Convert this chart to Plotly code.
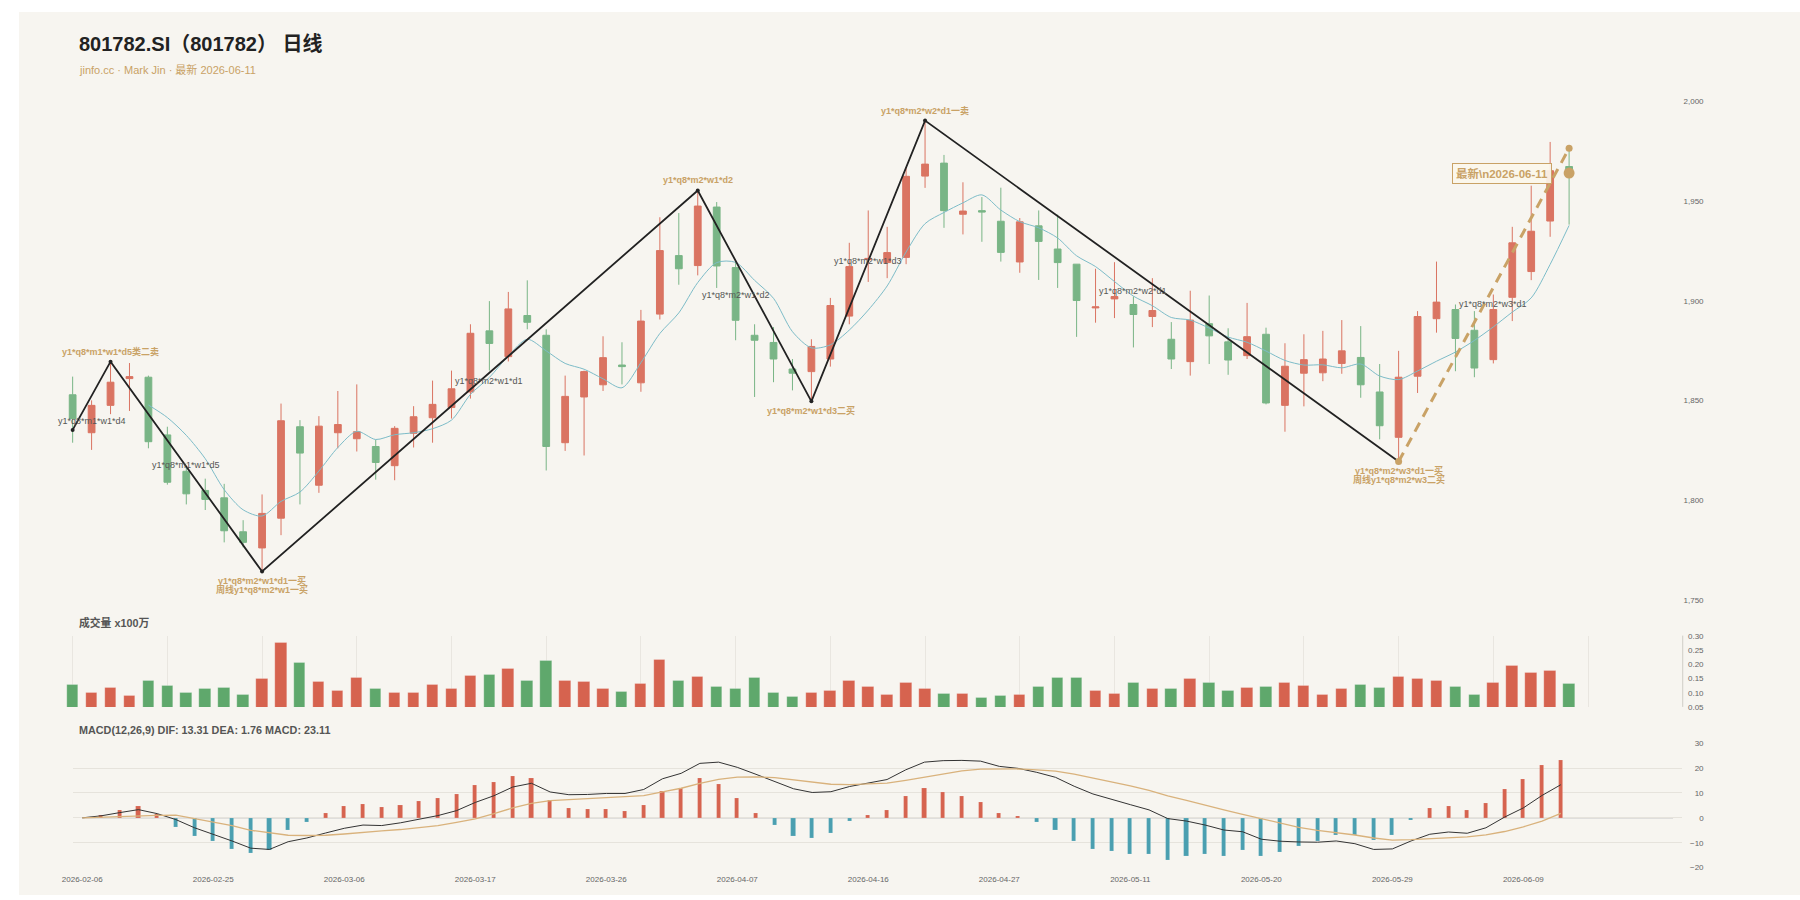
import plotly.graph_objects as go

# ---------------- data ----------------
dates = [
    "2026-02-06", "2026-02-09", "2026-02-10", "2026-02-11", "2026-02-12", "2026-02-13",
    "2026-02-24", "2026-02-25", "2026-02-26", "2026-02-27",
    "2026-03-02", "2026-03-03", "2026-03-04", "2026-03-05", "2026-03-06",
    "2026-03-09", "2026-03-10", "2026-03-11", "2026-03-12", "2026-03-13",
    "2026-03-16", "2026-03-17", "2026-03-18", "2026-03-19", "2026-03-20",
    "2026-03-23", "2026-03-24", "2026-03-25", "2026-03-26", "2026-03-27",
    "2026-03-30", "2026-03-31", "2026-04-01", "2026-04-02", "2026-04-03",
    "2026-04-07", "2026-04-08", "2026-04-09", "2026-04-10",
    "2026-04-13", "2026-04-14", "2026-04-15", "2026-04-16", "2026-04-17",
    "2026-04-20", "2026-04-21", "2026-04-22", "2026-04-23", "2026-04-24",
    "2026-04-27", "2026-04-28", "2026-04-29", "2026-04-30",
    "2026-05-06", "2026-05-07", "2026-05-08",
    "2026-05-11", "2026-05-12", "2026-05-13", "2026-05-14", "2026-05-15",
    "2026-05-18", "2026-05-19", "2026-05-20", "2026-05-21", "2026-05-22",
    "2026-05-25", "2026-05-26", "2026-05-27", "2026-05-28", "2026-05-29",
    "2026-06-01", "2026-06-02", "2026-06-03", "2026-06-04", "2026-06-05",
    "2026-06-08", "2026-06-09", "2026-06-10", "2026-06-11",
]

open_ = [1852.9, 1833.9, 1847.6, 1861.0, 1861.7, 1832.8, 1814.6, 1805.0, 1801.3, 1784.3,
         1776.2, 1791.1, 1836.9, 1807.6, 1833.9, 1830.9, 1827.0, 1817.4, 1833.6, 1841.4,
         1846.5, 1854.3, 1884.9, 1872.0, 1892.6, 1882.7, 1828.9, 1851.8, 1857.9, 1867.8,
         1858.9, 1893.3, 1922.6, 1917.6, 1946.9, 1916.6, 1882.7, 1879.1, 1865.8, 1864.5,
         1870.8, 1892.3, 1920.6, 1919.1, 1921.7, 1962.4, 1968.9, 1943.3, 1945.1, 1939.8,
         1919.4, 1937.5, 1925.9, 1918.3, 1896.4, 1900.9, 1898.1, 1892.1, 1880.7, 1869.5,
         1888.5, 1879.4, 1872.5, 1883.2, 1847.6, 1863.7, 1863.9, 1868.6, 1871.6, 1854.3,
         1831.6, 1862.2, 1891.0, 1895.6, 1885.2, 1870.5, 1901.7, 1914.6, 1939.9, 1967.2]
high = [1862.0, 1850.1, 1869.5, 1868.8, 1862.5, 1836.9, 1817.0, 1810.9, 1808.3, 1790.1,
        1803.0, 1848.5, 1840.2, 1842.2, 1854.8, 1858.1, 1830.3, 1837.2, 1847.2, 1860.0,
        1865.0, 1888.2, 1899.8, 1904.4, 1910.2, 1885.7, 1862.5, 1865.0, 1882.2, 1879.2,
        1895.4, 1941.8, 1943.9, 1955.2, 1949.4, 1919.6, 1888.2, 1886.8, 1870.8, 1880.7,
        1901.4, 1929.0, 1945.2, 1937.0, 1966.3, 1990.2, 1973.0, 1959.3, 1951.9, 1956.6,
        1941.4, 1945.2, 1943.1, 1918.3, 1916.0, 1919.3, 1902.2, 1911.3, 1889.3, 1905.0,
        1902.6, 1886.2, 1898.9, 1886.5, 1878.7, 1883.2, 1884.9, 1890.3, 1887.3, 1868.3,
        1874.9, 1894.8, 1919.6, 1898.1, 1894.8, 1903.1, 1937.0, 1957.6, 1979.5, 1976.3]
low = [1828.9, 1825.3, 1843.2, 1844.8, 1826.1, 1807.9, 1798.0, 1795.2, 1779.0, 1776.5,
       1764.4, 1782.6, 1798.0, 1803.8, 1826.1, 1824.5, 1810.4, 1810.1, 1826.5, 1828.9,
       1841.0, 1851.0, 1865.0, 1869.6, 1885.7, 1815.0, 1824.8, 1822.5, 1854.8, 1858.1,
       1854.4, 1890.6, 1908.0, 1912.7, 1906.4, 1880.2, 1851.8, 1859.2, 1855.1, 1849.6,
       1867.0, 1888.2, 1909.4, 1911.3, 1918.3, 1956.5, 1936.5, 1933.2, 1929.5, 1919.6,
       1914.0, 1910.4, 1906.4, 1881.9, 1889.0, 1891.3, 1876.6, 1886.8, 1865.8, 1862.5,
       1868.3, 1862.9, 1870.8, 1848.1, 1834.4, 1847.1, 1859.7, 1863.4, 1851.4, 1830.6,
       1819.5, 1853.8, 1884.0, 1864.7, 1861.7, 1868.6, 1889.8, 1910.3, 1932.0, 1938.1]
close = [1841.0, 1847.6, 1859.2, 1862.0, 1829.4, 1809.1, 1803.3, 1800.5, 1784.8, 1779.0,
         1793.5, 1839.9, 1823.7, 1837.2, 1838.0, 1834.4, 1819.0, 1836.1, 1841.9, 1848.1,
         1855.9, 1883.7, 1878.6, 1895.9, 1889.2, 1827.0, 1852.1, 1864.5, 1871.5, 1867.0,
         1889.8, 1925.1, 1916.0, 1947.4, 1917.4, 1890.2, 1880.2, 1870.8, 1863.7, 1877.1,
         1897.6, 1917.1, 1921.2, 1924.1, 1962.3, 1968.4, 1945.1, 1944.9, 1944.4, 1924.2,
         1939.5, 1929.7, 1919.1, 1900.1, 1896.9, 1902.1, 1893.1, 1895.1, 1870.8, 1890.3,
         1882.4, 1870.3, 1882.0, 1848.8, 1867.2, 1870.5, 1870.8, 1874.9, 1857.9, 1837.4,
         1861.7, 1892.1, 1899.3, 1881.1, 1866.3, 1895.6, 1929.0, 1934.8, 1965.1, 1963.9]

ma5 = [None, None, None, None,
       1847.8, 1841.5, 1832.6, 1820.9, 1805.4, 1795.3, 1792.2, 1799.5, 1804.2, 1814.7,
       1826.5, 1834.6, 1830.5, 1832.9, 1833.9, 1835.9, 1840.2, 1853.1, 1861.6, 1872.4,
       1880.7, 1874.9, 1868.6, 1865.7, 1860.9, 1856.4, 1869.0, 1883.6, 1893.9, 1909.1,
       1919.1, 1919.2, 1910.2, 1901.2, 1884.5, 1876.4, 1877.9, 1885.3, 1895.3, 1907.4,
       1924.4, 1938.6, 1944.2, 1949.0, 1953.0, 1945.4, 1939.6, 1936.5, 1931.4, 1922.5,
       1917.1, 1909.6, 1902.3, 1897.5, 1891.6, 1890.3, 1886.3, 1881.8, 1879.2, 1874.8,
       1870.1, 1867.8, 1867.9, 1866.4, 1868.3, 1862.3, 1860.5, 1864.8, 1869.7, 1874.3,
       1880.1, 1886.9, 1894.3, 1901.4, 1918.2, 1937.7]

volume = [0.128, 0.101, 0.116, 0.088, 0.141, 0.123, 0.101, 0.112, 0.117, 0.093,
          0.147, 0.274, 0.206, 0.137, 0.106, 0.153, 0.112, 0.099, 0.101, 0.128,
          0.114, 0.158, 0.162, 0.183, 0.141, 0.212, 0.143, 0.137, 0.113, 0.103,
          0.130, 0.214, 0.141, 0.157, 0.120, 0.113, 0.152, 0.099, 0.086, 0.101,
          0.108, 0.141, 0.122, 0.092, 0.133, 0.113, 0.095, 0.095, 0.080, 0.090,
          0.092, 0.122, 0.151, 0.153, 0.106, 0.095, 0.134, 0.112, 0.114, 0.148,
          0.136, 0.106, 0.116, 0.122, 0.134, 0.124, 0.091, 0.115, 0.129, 0.116,
          0.155, 0.148, 0.141, 0.119, 0.092, 0.134, 0.193, 0.171, 0.175, 0.130]

dif = [0.0, 0.8, 2.1, 3.3, 1.7, -0.7, -4.0, -6.6, -9.3, -12.2,
       -12.7, -9.6, -8.1, -6.1, -4.2, -2.9, -3.1, -2.0, -0.7, 0.9,
       2.9, 6.2, 8.9, 12.4, 13.9, 10.4, 9.3, 9.4, 9.8, 9.8,
       11.4, 15.7, 17.9, 21.9, 22.4, 20.3, 17.5, 14.6, 11.7, 10.2,
       10.5, 12.6, 14.1, 15.4, 19.3, 22.4, 23.0, 23.1, 22.8, 20.7,
       19.9, 18.3, 16.3, 12.7, 9.6, 7.3, 5.3, 3.2, -0.3, -1.3,
       -2.9, -4.9, -5.6, -8.6, -9.4, -9.7, -9.8, -9.3, -10.4, -12.7,
       -12.5, -9.3, -6.6, -5.7, -6.2, -4.0, 0.3, 4.0, 9.0, 13.31]
dea = [0.0, 0.25, 0.6, 1.05, 1.0, 1.1, -0.3, -1.8, -3.1, -5.0,
       -6.1, -7.0, -7.1, -7.0, -6.5, -5.7, -5.2, -4.7, -4.0, -3.1,
       -1.8, -0.4, 1.7, 4.0, 5.8, 6.9, 7.3, 7.7, 8.1, 8.4,
       8.9, 10.4, 11.9, 13.9, 15.5, 16.4, 16.5, 16.2, 15.4, 14.3,
       13.5, 13.35, 13.55, 13.95, 15.05, 16.35, 17.8, 18.85, 19.6, 19.75,
       19.65, 19.3, 18.8, 17.6, 16.1, 14.4, 12.9, 11.0, 8.8, 7.0,
       5.0, 3.2, 1.4, -0.4, -2.2, -3.8, -5.0, -5.9, -6.9, -8.1,
       -9.0, -8.8, -8.45, -7.95, -7.65, -6.85, -5.5, -3.6, -1.3, 1.76]
macd_hist = [0.0, 1.1, 3.0, 4.5, 1.6, -3.7, -7.3, -9.6, -12.5, -14.2,
             -13.0, -5.0, -1.9, 1.8, 4.5, 5.5, 4.1, 5.2, 6.5, 7.8,
             9.3, 13.2, 14.4, 16.7, 16.1, 7.0, 4.0, 3.3, 3.5, 2.8,
             5.0, 10.5, 12.0, 16.1, 13.7, 7.7, 2.0, -3.1, -7.4, -8.2,
             -6.0, -1.5, 1.1, 2.9, 8.5, 12.1, 10.4, 8.5, 6.4, 1.9,
             0.5, -1.9, -5.0, -9.6, -12.6, -13.4, -14.7, -14.7, -17.1, -15.5,
             -14.7, -15.3, -13.1, -15.5, -13.7, -11.4, -9.3, -6.8, -7.0, -9.2,
             -6.9, -1.1, 3.7, 4.5, 2.9, 5.7, 11.6, 15.4, 21.0, 23.11]

# zigzag (stroke) pivots
zz_dates = ["2026-02-06", "2026-02-10", "2026-03-02", "2026-04-02", "2026-04-13", "2026-04-21", "2026-05-29"]
zz_values = [1835.3, 1869.5, 1764.4, 1955.2, 1849.6, 1990.2, 1819.5]
# running (unfinished) stroke
run_dates = ["2026-05-29", "2026-06-11"]
run_values = [1819.5, 1976.3]

# emphasised pivot labels: (date, value, lines, side)
pivot_labels = [
    ("2026-02-10", 1869.5, ["y1*q8*m1*w1*d5类二卖"], "above"),
    ("2026-03-02", 1764.4, ["y1*q8*m2*w1*d1一买", "周线y1*q8*m2*w1一买"], "below"),
    ("2026-04-02", 1955.2, ["y1*q8*m2*w1*d2"], "above"),
    ("2026-04-13", 1849.6, ["y1*q8*m2*w1*d3二买"], "below"),
    ("2026-04-21", 1990.2, ["y1*q8*m2*w2*d1一卖"], "above"),
    ("2026-05-29", 1819.5, ["y1*q8*m2*w3*d1一买", "周线y1*q8*m2*w3二买"], "below"),
]
# minor labels: (date, value, text)
minor_labels = [
    ("2026-02-09", 1839.9, "y1*q8*m1*w1*d4"),
    ("2026-02-24", 1817.5, "y1*q8*m1*w1*d5"),
    ("2026-03-18", 1860.0, "y1*q8*m2*w1*d1"),
    ("2026-04-07", 1902.7, "y1*q8*m2*w1*d2"),
    ("2026-04-16", 1920.1, "y1*q8*m2*w1*d3"),
    ("2026-05-11", 1904.7, "y1*q8*m2*w2*d1"),
    ("2026-06-05", 1898.4, "y1*q8*m2*w3*d1"),
]

price_ticks = [1750, 1800, 1850, 1900, 1950, 2000]
vol_ticks = [0.05, 0.10, 0.15, 0.20, 0.25, 0.30]
macd_ticks = [-20, -10, 0, 10, 20, 30]

title_text = "801782.SI（801782） 日线"
subtitle_text = "jinfo.cc · Mark Jin · 最新 2026-06-11"
vol_title = "成交量 x100万"
macd_title = "MACD(12,26,9) DIF: 13.31 DEA: 1.76 MACD: 23.11"
latest_text = "最新\\n2026-06-11"

# ---------------- styling ----------------
BG = "#f7f5f0"
RED = "#da7462"
GREEN = "#79b586"
VRED = "#d6634f"
VGREEN = "#5fa86c"
BLUE = "#4a9fb0"
TAN = "#c9a266"
FONT = "Liberation Sans, Arial, Noto Sans CJK SC, sans-serif"

W, H = 1800, 900


def px(page_x):
    return page_x / W


def py(page_y):
    return 1 - page_y / H


idx = list(range(len(dates)))
pos = {d: i for i, d in enumerate(dates)}

fig = go.Figure()

# candlesticks
fig.add_trace(go.Candlestick(
    x=idx, open=open_, high=high, low=low, close=close,
    increasing=dict(line=dict(color=RED, width=1), fillcolor=RED),
    decreasing=dict(line=dict(color=GREEN, width=1), fillcolor=GREEN),
    whiskerwidth=0, xaxis="x", yaxis="y", hoverinfo="skip"))

# MA line
fig.add_trace(go.Scatter(x=idx, y=ma5, mode="lines",
                         line=dict(color="#7dbcc8", width=1, shape="spline", smoothing=0.8),
                         xaxis="x", yaxis="y", hoverinfo="skip"))

# zigzag strokes
fig.add_trace(go.Scatter(x=[pos[d] for d in zz_dates], y=zz_values, mode="lines+markers",
                         line=dict(color="#222222", width=1.8),
                         marker=dict(size=4, color="#222222"),
                         xaxis="x", yaxis="y", hoverinfo="skip"))
fig.add_trace(go.Scatter(x=[pos[d] for d in run_dates], y=run_values, mode="lines+markers",
                         line=dict(color=TAN, width=3, dash="10px,7px"),
                         marker=dict(size=7, color=TAN),
                         xaxis="x", yaxis="y", hoverinfo="skip"))
fig.add_trace(go.Scatter(x=[idx[-1]], y=[close[-1]], mode="markers",
                         marker=dict(size=11, color=TAN),
                         xaxis="x", yaxis="y", hoverinfo="skip"))

# volume
vcolors = [VRED if c >= o else VGREEN for o, c in zip(open_, close)]
fig.add_trace(go.Bar(x=idx, y=volume,
                     marker=dict(color=vcolors, line=dict(width=0.8, color="rgba(255,255,255,0.3)")),
                     width=0.6, xaxis="x2", yaxis="y2", hoverinfo="skip"))

# MACD
hcolors = [VRED if v >= 0 else BLUE for v in macd_hist]
fig.add_trace(go.Bar(x=idx, y=macd_hist,
                     marker=dict(color=hcolors, line=dict(width=0.6, color="rgba(255,255,255,0.25)")),
                     width=0.22, xaxis="x3", yaxis="y3", hoverinfo="skip"))
fig.add_trace(go.Scatter(x=idx, y=dif, mode="lines", line=dict(color="#333333", width=1),
                         xaxis="x3", yaxis="y3", hoverinfo="skip"))
fig.add_trace(go.Scatter(x=idx, y=dea, mode="lines", line=dict(color="#d9b27c", width=1.3),
                         xaxis="x3", yaxis="y3", hoverinfo="skip"))

annotations = []
# titles
annotations.append(dict(text="<b>" + title_text + "</b>", xref="paper", yref="paper",
                        x=px(66), y=py(40), xanchor="left", yanchor="middle", showarrow=False,
                        font=dict(size=20, color="#222222", family=FONT)))
annotations.append(dict(text=subtitle_text, xref="paper", yref="paper",
                        x=px(66), y=py(66), xanchor="left", yanchor="middle", showarrow=False,
                        font=dict(size=11, color=TAN, family=FONT)))
annotations.append(dict(text="<b>" + vol_title + "</b>", xref="paper", yref="paper",
                        x=px(66), y=py(625), xanchor="left", yanchor="middle", showarrow=False,
                        font=dict(size=10.8, color="#555555", family=FONT)))
annotations.append(dict(text="<b>" + macd_title + "</b>", xref="paper", yref="paper",
                        x=px(66), y=py(733), xanchor="left", yanchor="middle", showarrow=False,
                        font=dict(size=10.8, color="#555555", family=FONT)))

for d, v, lines, side in pivot_labels:
    for k, line in enumerate(lines):
        shift = 10 if side == "above" else -(9 + 9.3 * k)
        annotations.append(dict(text="<b>" + line + "</b>", x=pos[d], y=v, xref="x", yref="y",
                                yshift=shift, xanchor="center", yanchor="middle", showarrow=False,
                                font=dict(size=9, color=TAN, family=FONT)))

for d, v, t in minor_labels:
    annotations.append(dict(text=t, x=pos[d], y=v, xref="x", yref="y",
                            xanchor="center", yanchor="middle", showarrow=False,
                            font=dict(size=9, color="#555555", family=FONT)))

annotations.append(dict(text="<b>" + latest_text + "</b>", x=idx[-1], y=close[-1], xref="x", yref="y",
                        xanchor="right", yanchor="middle", xshift=-17, showarrow=False,
                        font=dict(size=11.5, color=TAN, family=FONT),
                        bgcolor="rgba(251,246,236,0.92)", bordercolor=TAN, borderwidth=1, borderpad=3))

shapes = [
    # chart card (white page border of 8px at top/left)
    dict(type="rect", xref="paper", yref="paper", x0=px(8), x1=1, y0=0, y1=py(8),
         fillcolor=BG, line=dict(width=0), layer="below"),
    # MACD zero line
    dict(type="line", xref="x3", yref="y3", x0=0, x1=len(dates) + 5, y0=0, y1=0,
         line=dict(color="#c8c8c8", width=1.2), layer="below"),
    # volume axis line
    dict(type="line", xref="paper", yref="paper", x0=px(1682), x1=px(1682), y0=py(710), y1=py(638),
         line=dict(color="#d0cdc6", width=1)),
]

main_dom = [px(52.5), px(1672.5)]
macd_dom = [px(62.3), px(1681.7)]
ypos = px(1703)
tickfont = dict(size=8, color="#666666", family=FONT)

fig.update_layout(
    width=W, height=H, margin=dict(l=0, r=0, t=0, b=0),
    paper_bgcolor="#ffffff", plot_bgcolor="rgba(0,0,0,0)", showlegend=False,
    font=dict(family=FONT), boxgap=0.49, bargap=0,
    annotations=annotations, shapes=shapes,
    xaxis=dict(domain=main_dom, range=[-0.5, 84.5], anchor="y", showticklabels=False,
               showgrid=False, zeroline=False, ticks="", rangeslider=dict(visible=False)),
    yaxis=dict(domain=[py(602.3), py(80)], range=[1750, 2008.92], anchor="free", position=ypos,
               side="left", tickvals=price_ticks, tickformat=",", showgrid=False, zeroline=False,
               ticks="", tickfont=tickfont),
    xaxis2=dict(domain=main_dom, range=[-0.5, 84.5], anchor="y2", showticklabels=False,
                tickvals=list(range(0, len(dates) + 1, 5)), showgrid=True, gridcolor="#e9e6e0",
                gridwidth=1, zeroline=False, ticks=""),
    yaxis2=dict(domain=[py(710), py(638.3)], range=[0.05, 0.30], anchor="free", position=ypos,
                side="left", tickvals=vol_ticks, tickformat=".2f", showgrid=False, zeroline=False,
                ticks="", tickfont=tickfont),
    xaxis3=dict(domain=macd_dom, range=[-0.5, 85.5], anchor="y3",
                tickvals=idx[::7], ticktext=dates[::7], showgrid=False, zeroline=False,
                ticks="", tickfont=tickfont, ticklabelstandoff=5),
    yaxis3=dict(domain=[py(872.3), py(746.7)], range=[-20, 30], anchor="free", position=ypos,
                side="left", tickvals=macd_ticks, showgrid=True, gridcolor="#e6e3dc",
                zeroline=False, ticks="", tickfont=tickfont),
)

fig.write_html("out.html")
